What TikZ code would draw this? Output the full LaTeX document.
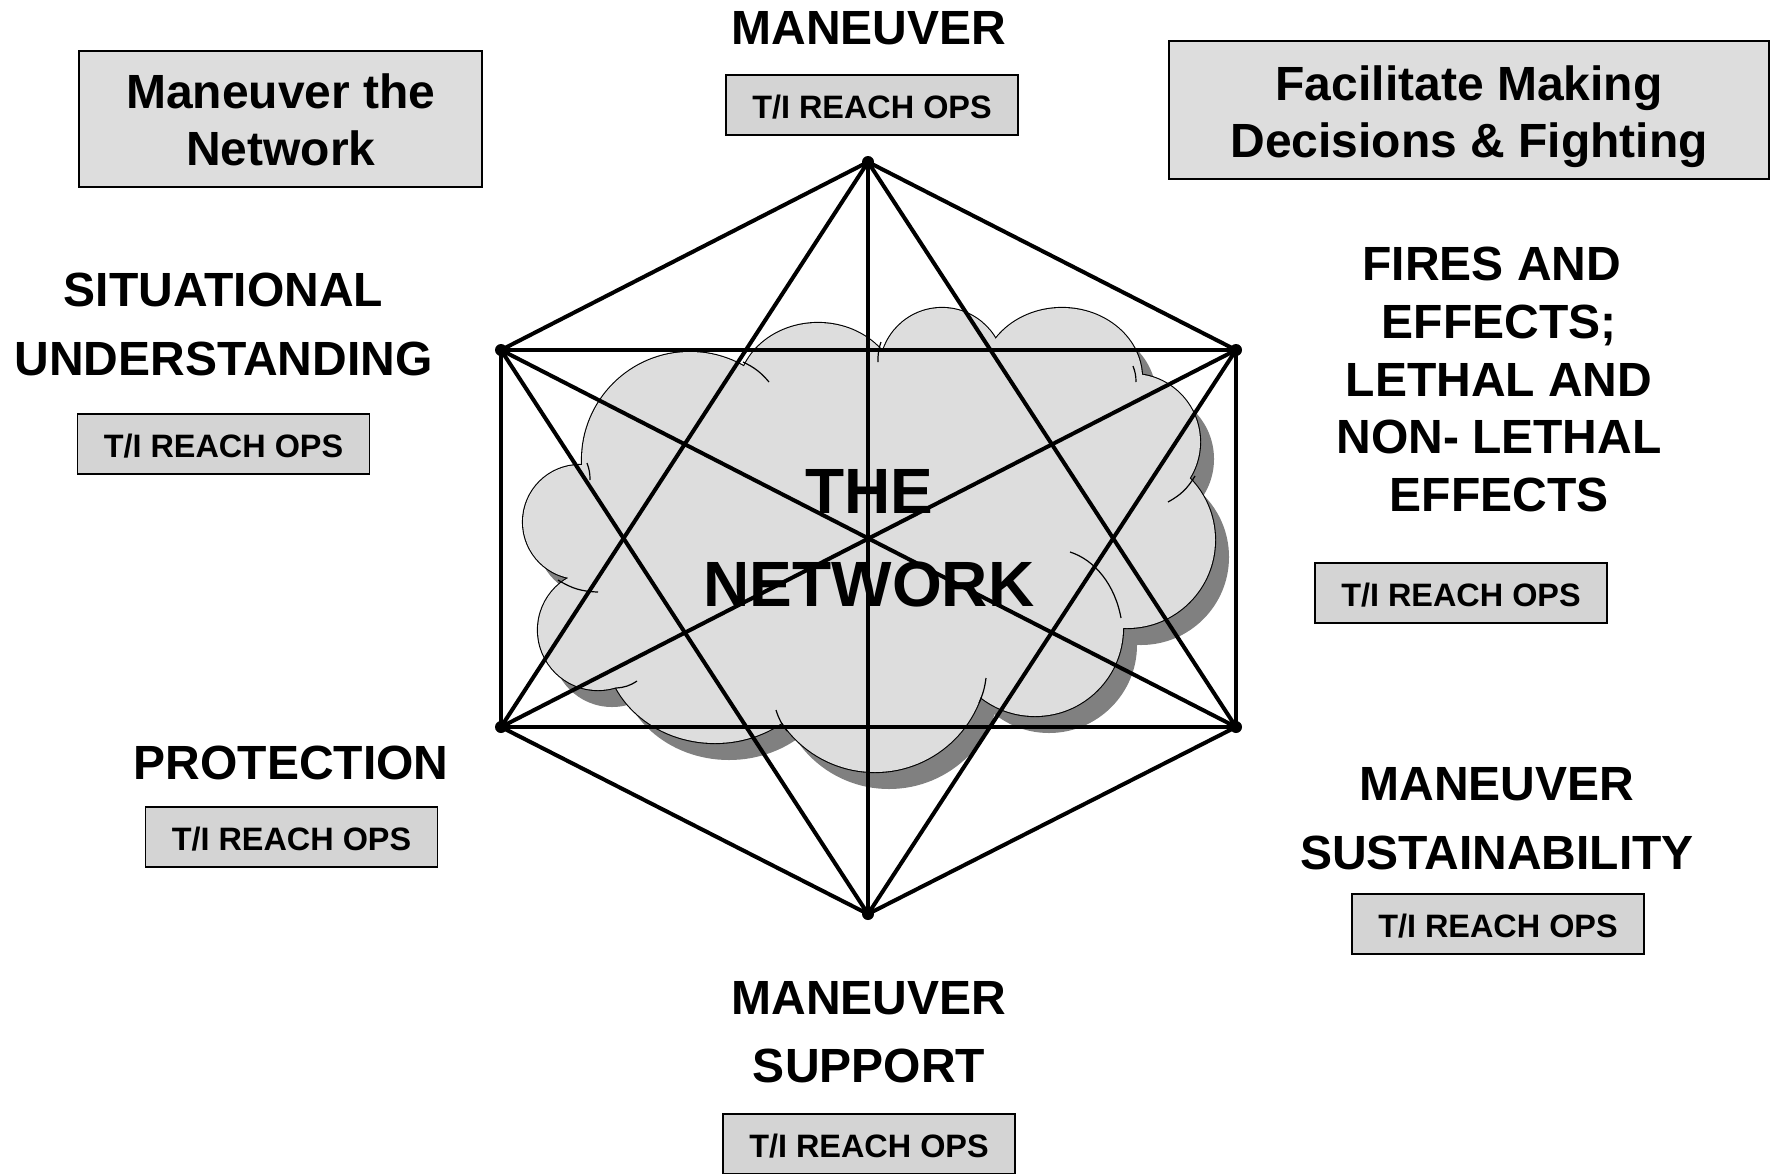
\documentclass[tikz,border=0pt]{standalone}
\usepackage{fontspec}
\setmainfont{Liberation Sans}
\definecolor{cloudfill}{HTML}{DDDDDD}
\definecolor{cloudshadow}{HTML}{808080}
\definecolor{titlegray}{HTML}{DDDDDD}
\definecolor{reachgray}{HTML}{D4D4D4}
\begin{document}
\begin{tikzpicture}[x=0.5pt,y=-0.5pt,
  every node/.style={inner sep=0pt},
  edge/.style={line width=2pt, line cap=round},
  crease/.style={line width=0.6pt},
  vdot/.style={fill=black},
  reachbox/.style={draw=black, line width=0.85pt, fill=reachgray, minimum width=146pt, minimum height=30pt, text height=13.6pt, text depth=0pt, font=\fontsize{16.2}{19}\selectfont\bfseries},
  titlebox/.style={draw=black, line width=0.85pt, fill=titlegray},
  titletext/.style={align=center, font=\fontsize{24}{28.5}\selectfont\bfseries},
  caps/.style={align=center, font=\fontsize{24}{34.5}\selectfont\bfseries},
  capsnarrow/.style={align=center, font=\fontsize{24}{28.85}\selectfont\bfseries},
]
\fill[white] (0,0) rectangle (1775,1173);
\useasboundingbox (0,0) rectangle (1775,1173);

\def\lobelist{690/460/54pt/54pt, 580/522/28.5pt/28.5pt, 598/630/30pt/30pt, 715/645/55pt/49pt, 875/660/56pt/56pt, 1035/628/44pt/44pt, 1127/540/44pt/44pt, 1132/442/34pt/34pt, 1062/378/40pt/35pt, 942/370/31pt/31pt, 818/393/40pt/35pt}

% cloud shadow
\foreach \cx/\cy/\rx/\ry in \lobelist {\fill[cloudshadow] (\cx+14,\cy+17) ellipse[x radius=\rx, y radius=\ry];}
\fill[cloudshadow, shift={(14,17)}] (690,460) -- (580,522) -- (598,630) -- (715,645) -- (875,660) -- (1035,628) -- (1127,540) -- (1132,442) -- (1062,378) -- (942,370) -- (818,393) -- cycle;
% cloud outline
\foreach \cx/\cy/\rx/\ry in \lobelist {\draw[line width=1.1pt] (\cx,\cy) ellipse[x radius=\rx, y radius=\ry];}
% cloud fill
\foreach \cx/\cy/\rx/\ry in \lobelist {\fill[cloudfill] (\cx,\cy) ellipse[x radius=\rx, y radius=\ry];}
\fill[cloudfill] (690,460) -- (580,522) -- (598,630) -- (715,645) -- (875,660) -- (1035,628) -- (1127,540) -- (1132,442) -- (1062,378) -- (942,370) -- (818,393) -- cycle;
\fill[cloudfill] (860,540) ellipse[x radius=120pt, y radius=75pt];
% creases
\draw[crease] (743,362) to[bend left=12] (769,382);
\draw[crease] (881,342) to[bend right=10] (878,362);
\draw[crease] (1133,366) to[bend left=10] (1136,382);
\draw[crease] (1195,476) to[bend left=15] (1168,502);
\draw[crease] (1070,552) .. controls (1095,560) and (1115,585) .. (1121,618);
\draw[crease] (986,678) to[bend left=8] (979,703);
\draw[crease] (776,710) to[bend right=10] (787,731);
\draw[crease] (616,688) to[bend right=15] (637,681);
\draw[crease] (558,580) to[bend right=15] (598,592);
\draw[crease] (587,463) to[bend left=10] (590,480);

% network vertices
\coordinate (vT) at (868,162);
\coordinate (vUL) at (501,350);
\coordinate (vUR) at (1236,350);
\coordinate (vLL) at (501,727);
\coordinate (vLR) at (1236,727);
\coordinate (vB) at (868,914);

\foreach \a/\b in {vT/vUL, vT/vUR, vT/vLL, vT/vLR, vT/vB, vUL/vUR, vUL/vLL, vUL/vLR, vUL/vB, vUR/vLL, vUR/vLR, vUR/vB, vLL/vLR, vLL/vB, vLR/vB}
  {\draw[edge] (\a) -- (\b);}
\foreach \v in {vT, vUL, vUR, vLL, vLR, vB} {\fill[vdot] (\v) circle[radius=3pt];}

\node[align=center, font=\fontsize{32}{46.5}\selectfont\bfseries] (net) at (869,538) {THE\\NETWORK};

% title boxes
\node[titlebox, minimum width=201.5pt, minimum height=68pt] (mnetbox) at (280.5,119) {};
\node[titletext] (mnet) at (281,119.5) {Maneuver the\\Network};
\node[titlebox, minimum width=300pt, minimum height=69pt] (facilbox) at (1469,110) {};
\node[titletext] (facil) at (1469,117) {Facilitate Making\\Decisions \& Fighting};

% functions
\node[caps] (man) at (869,28.5) {MANEUVER};
\node[reachbox] (rTop) at (872,105) {T/I REACH OPS};

\node[caps] (sit) at (223.5,324.5) {SITUATIONAL\\UNDERSTANDING};
\node[reachbox] (rSit) at (223.5,444) {T/I REACH OPS};

\node[capsnarrow] (fires) at (1499,379.5) {FIRES AND\rule{0.3em}{0pt}\\EFFECTS;\\LETHAL AND\\NON- LETHAL\\EFFECTS};
\node[reachbox] (rFires) at (1461,593) {T/I REACH OPS};

\node[caps] (prot) at (291,763) {PROTECTION};
\node[reachbox] (rProt) at (291.5,837) {T/I REACH OPS};

\node[caps] (sust) at (1497,818.5) {MANEUVER\\SUSTAINABILITY};
\node[reachbox] (rSust) at (1498,924) {T/I REACH OPS};

\node[caps, font=\fontsize{24}{34}\selectfont\bfseries] (supp) at (869,1032) {MANEUVER\\SUPPORT};
\node[reachbox] (rSupp) at (869,1144) {T/I REACH OPS};
\end{tikzpicture}
\end{document}
